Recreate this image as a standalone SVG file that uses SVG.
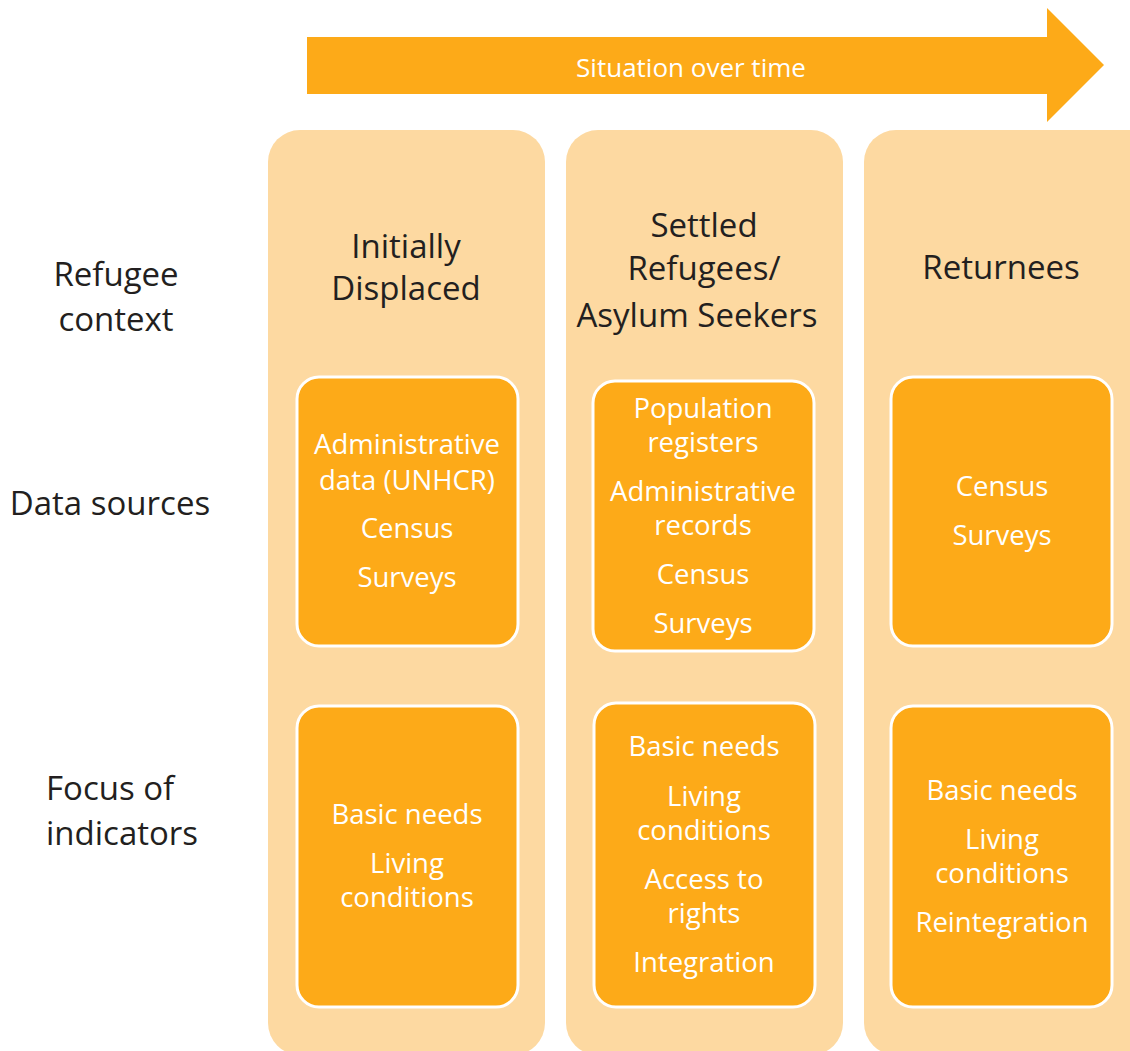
<svg xmlns="http://www.w3.org/2000/svg" width="1130" height="1051" viewBox="0 0 1130 1051">
<style>
.col{fill:#FDD9A1}
.box{fill:#FDAA18;stroke:#FFFFFF;stroke-width:3}
.w{font-family:"Open Sans","Noto Sans",sans-serif;font-size:27.5px;fill:#FFFFFF;text-anchor:middle}
.b{font-family:"Open Sans","Noto Sans",sans-serif;font-size:33px;fill:#231F20}
.c{text-anchor:middle}
</style>
<rect width="1130" height="1051" fill="#FFFFFF"/>
<g id="arrow">
<polygon points="307,37 1047,37 1047,8 1104,65 1047,122 1047,94 307,94" fill="#FDAA18"/>
<text class="w" x="691" y="77" style="font-size:26px">Situation over time</text>
</g>
<g id="labels">
<text class="b c" x="116" y="286">Refugee</text>
<text class="b c" x="116" y="331">context</text>
<text class="b c" x="110" y="515">Data sources</text>
<text class="b" x="46" y="800">Focus of</text>
<text class="b" x="46" y="845">indicators</text>
</g>
<g id="col-initially-displaced">
<rect class="col" x="268" y="130" width="277" height="925" rx="32"/>
<text class="b c" x="406" y="258">Initially</text>
<text class="b c" x="406" y="300">Displaced</text>
</g>
<g id="col-settled">
<rect class="col" x="566" y="130" width="277" height="925" rx="32"/>
<text class="b c" x="704" y="237">Settled</text>
<text class="b c" x="704" y="280">Refugees/</text>
<text class="b c" x="697" y="327">Asylum Seekers</text>
</g>
<g id="col-returnees">
<rect class="col" x="864" y="130" width="300" height="925" rx="32"/>
<text class="b c" x="1001" y="279">Returnees</text>
</g>
<g id="ds-initially">
<rect class="box" x="297" y="377" width="221" height="269" rx="22"/>
<text class="w" x="407" y="454">Administrative</text>
<text class="w" x="407" y="490">data (UNHCR)</text>
<text class="w" x="407" y="538">Census</text>
<text class="w" x="407" y="587">Surveys</text>
</g>
<g id="ds-settled">
<rect class="box" x="593" y="381" width="221" height="270" rx="22"/>
<text class="w" x="703" y="418">Population</text>
<text class="w" x="703" y="452">registers</text>
<text class="w" x="703" y="501">Administrative</text>
<text class="w" x="703" y="535">records</text>
<text class="w" x="703" y="584">Census</text>
<text class="w" x="703" y="633">Surveys</text>
</g>
<g id="ds-returnees">
<rect class="box" x="891" y="377" width="221" height="269" rx="22"/>
<text class="w" x="1002" y="496">Census</text>
<text class="w" x="1002" y="545">Surveys</text>
</g>
<g id="fi-initially">
<rect class="box" x="297" y="706" width="221" height="301" rx="22"/>
<text class="w" x="407" y="824">Basic needs</text>
<text class="w" x="407" y="873">Living</text>
<text class="w" x="407" y="907">conditions</text>
</g>
<g id="fi-settled">
<rect class="box" x="594" y="703" width="221" height="304" rx="22"/>
<text class="w" x="704" y="756">Basic needs</text>
<text class="w" x="704" y="806">Living</text>
<text class="w" x="704" y="840">conditions</text>
<text class="w" x="704" y="889">Access to</text>
<text class="w" x="704" y="923">rights</text>
<text class="w" x="704" y="972">Integration</text>
</g>
<g id="fi-returnees">
<rect class="box" x="891" y="706" width="221" height="301" rx="22"/>
<text class="w" x="1002" y="800">Basic needs</text>
<text class="w" x="1002" y="849">Living</text>
<text class="w" x="1002" y="883">conditions</text>
<text class="w" x="1002" y="932">Reintegration</text>
</g>
<g id="connectors"></g>
</svg>
